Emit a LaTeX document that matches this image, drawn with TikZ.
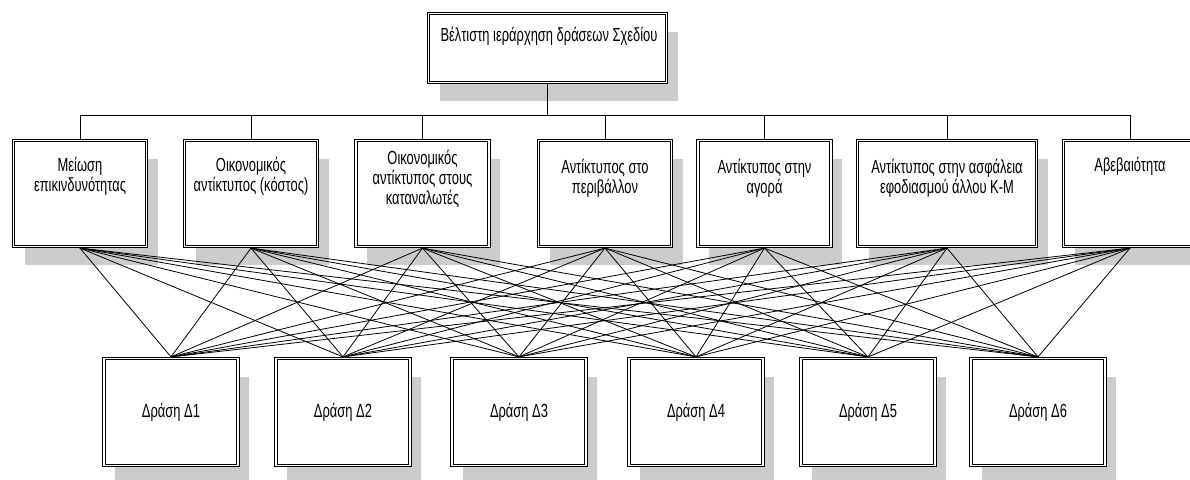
\documentclass[tikz,border=0pt]{standalone}
\usepackage{fontspec}
\setmainfont{Liberation Sans}[FakeStretch=0.68]
\usetikzlibrary{shadows}

\begin{document}
\begin{tikzpicture}[x=1pt,y=-1pt,line join=miter,every node/.style={font=\fontsize{19}{20}\selectfont},
	box/.style={draw,double,double distance=1.6pt,line width=0.8pt,fill=white,inner sep=0pt,outer sep=1.6pt,drop shadow={shadow xshift=11pt,shadow yshift=-18pt,fill=gray!40,opacity=1}},
	crit/.style={box,minimum width=133pt,minimum height=106pt},
	act/.style={box,minimum width=134pt,minimum height=107pt},
	lbl/.style={align=center,anchor=north,inner sep=0pt}]
				\useasboundingbox (0,0) rectangle (1190,479);
				\node[box,minimum width=238pt,minimum height=69pt] (goal) at (547.5,48) {};
				\node[lbl] (tgoal) at (549,27) {Βέλτιστη ιεράρχηση δράσεων Σχεδίου};
				\node[crit] (c1) at (80,193.5) {};
				\node[crit] (c2) at (251,193.5) {};
				\node[crit] (c3) at (422.5,193.5) {};
				\node[crit] (c4) at (605,193.5) {};
				\node[crit] (c5) at (764.5,193.5) {};
				\node[crit,minimum width=179pt] (c6) at (947,193.5) {};
				\node[crit] (c7) at (1130,193.5) {};
				\node[lbl] (t1) at (80,157) {Μείωση\\επικινδυνότητας};
				\node[lbl] (t2) at (251,157) {Οικονομικός\\αντίκτυπος (κόστος)};
				\node[lbl] (t3) at (422.5,150) {Οικονομικός\\αντίκτυπος στους\\καταναλωτές};
				\node[lbl] (t4) at (605,159) {Αντίκτυπος στο\\περιβάλλον};
				\node[lbl] (t5) at (764.5,159) {Αντίκτυπος στην\\αγορά};
				\node[lbl] (t6) at (947,159) {Αντίκτυπος στην ασφάλεια\\εφοδιασμού άλλου Κ-Μ};
				\node[lbl] (t7) at (1130,157) {Αβεβαιότητα};
				\node[act] (d1) at (171,412) {Δράση Δ1};
				\node[act] (d2) at (343,412) {Δράση Δ2};
				\node[act] (d3) at (519,412) {Δράση Δ3};
				\node[act] (d4) at (696,412) {Δράση Δ4};
				\node[act] (d5) at (868,412) {Δράση Δ5};
				\node[act] (d6) at (1038,412) {Δράση Δ6};
				\coordinate (bus) at (547.5,115);
				\draw[line width=0.9pt] (goal.south) -- (bus);
				\foreach \i in {1,...,7}
					\draw[line width=0.9pt] (bus) -| (c\i.north);
				\foreach \i in {1,...,7}
					\foreach \j in {1,...,6}
						\draw[line width=0.8pt] (c\i.south) -- (d\j.north);
		\end{tikzpicture}
\end{document}
